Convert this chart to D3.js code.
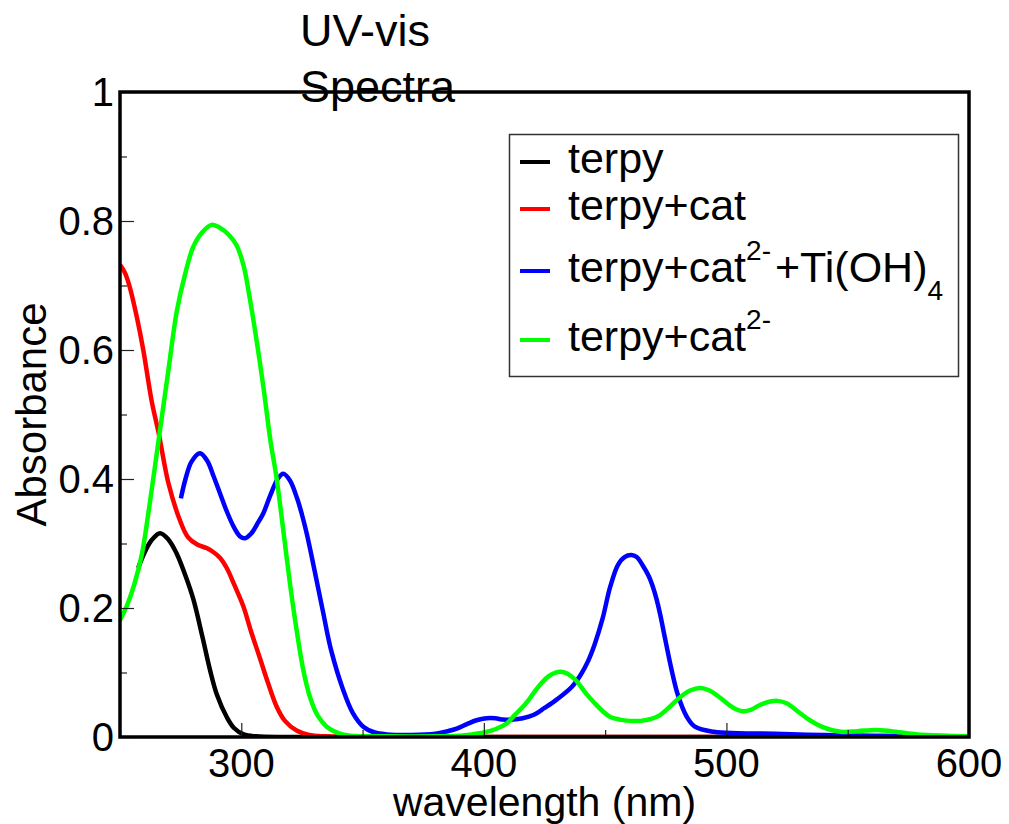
<!DOCTYPE html>
<html>
<head>
<meta charset="utf-8">
<script src="https://cdn.jsdelivr.net/npm/d3@7"></script>
<style>
  body { margin: 0; background: #fff; }
  text { font-family: "Liberation Sans", Arial, Helvetica, sans-serif; fill: #000; }
</style>
</head>
<body>
<div id="chart"></div>
<script>
// spectra: [wavelength nm, absorbance]
var terpy = [
  [257.5, 0.262], [260, 0.285], [263, 0.305], [266.5, 0.316], [270, 0.306],
  [273.3, 0.285], [277, 0.25], [280.2, 0.214], [284, 0.155], [287.1, 0.104], [290, 0.065],
  [294, 0.031], [297, 0.014], [301, 0.004], [306, 0.001], [320, 0], [400, 0], [500, 0], [600, 0]
];

var terpyCat = [
  [250, 0.732], [252, 0.72], [254, 0.698], [257, 0.65], [259.6, 0.6], [263, 0.522],
  [266, 0.47], [270, 0.393], [274.7, 0.336], [278, 0.31], [282, 0.298], [285.7, 0.293],
  [288, 0.288], [291.2, 0.278], [294, 0.262], [297, 0.237], [300.8, 0.203], [304, 0.164],
  [307.7, 0.122], [311, 0.084], [314.6, 0.047], [318, 0.025], [322.8, 0.01], [328, 0.003],
  [335, 0.001], [350, 0], [450, 0], [600, 0]
];

var terpyCatTi = [
  [275.1, 0.37], [277, 0.40], [279.5, 0.427], [283, 0.44], [286, 0.428], [288.5, 0.405],
  [291.2, 0.378], [294, 0.35], [297, 0.325], [299.5, 0.311], [301.5, 0.308], [304, 0.315],
  [307, 0.333], [309.1, 0.347], [312, 0.375], [315, 0.40], [317.3, 0.408], [320, 0.398],
  [323, 0.37], [325, 0.345], [327, 0.315], [330, 0.262], [333.8, 0.192], [337, 0.135],
  [342, 0.073], [346, 0.037], [350.3, 0.016], [355, 0.007], [360, 0.004], [370, 0.003],
  [380, 0.005], [385, 0.009], [388.8, 0.013], [393, 0.02], [397, 0.026], [401, 0.029],
  [404.7, 0.029], [408, 0.027], [412, 0.027], [416, 0.029], [420.4, 0.034], [425, 0.045],
  [430, 0.058], [436.3, 0.078], [440, 0.097], [443, 0.118], [445.8, 0.145], [448.9, 0.183],
  [452.1, 0.233], [455.3, 0.267], [458, 0.279], [460.8, 0.282], [463, 0.279], [465.5, 0.266],
  [467.9, 0.25], [469.5, 0.235], [471.1, 0.215], [472.7, 0.19], [474.2, 0.162], [477.4, 0.104],
  [480, 0.065], [483.7, 0.031], [487, 0.016], [494.8, 0.008], [505, 0.006], [520, 0.005],
  [540, 0.003], [560, 0.002], [600, 0.001]
];

var terpyCat2 = [
  [250, 0.181], [253, 0.205], [256, 0.238], [259, 0.283], [262, 0.355], [266.2, 0.468],
  [270, 0.57], [273.4, 0.66], [277, 0.72], [280.2, 0.76], [284, 0.783], [287.8, 0.794],
  [291, 0.79], [295, 0.778], [298.1, 0.762], [301, 0.73], [303.6, 0.678], [306.5, 0.61],
  [309.1, 0.543], [312, 0.46], [314.6, 0.40], [317.3, 0.321], [320, 0.24], [322.8, 0.166],
  [325.5, 0.105], [328.3, 0.062], [331.5, 0.033], [335.2, 0.016], [340, 0.006], [345, 0.002],
  [360, 0.001], [380, 0.001], [390, 0.002], [395, 0.004], [400, 0.007], [404.7, 0.012],
  [409.4, 0.021], [413, 0.035], [417.3, 0.052], [420.5, 0.068], [423.6, 0.083], [427, 0.095],
  [431.5, 0.101], [434.5, 0.098], [437.9, 0.088], [442, 0.068], [445.8, 0.052], [449, 0.04],
  [452.1, 0.031], [456, 0.027], [460, 0.025], [464.7, 0.025], [469, 0.028], [472.6, 0.034],
  [477, 0.048], [481, 0.062], [485, 0.072], [489.3, 0.076], [493, 0.072], [497, 0.062],
  [501, 0.05], [504, 0.043], [506.7, 0.04], [510, 0.042], [514, 0.05], [518, 0.055],
  [521, 0.056], [525, 0.052], [530, 0.038], [534.4, 0.026], [540, 0.015], [547.1, 0.008],
  [554, 0.009], [561.3, 0.011], [568, 0.009], [578.7, 0.004], [590, 0.002], [600, 0.001]
];

var seriesNames = ["terpy", "terpy+cat", "terpy+cat2-+Ti(OH)4", "terpy+cat2-"];
var seriesColours = ["#000000", "#ff0000", "#0000ff", "#00ff00"];
var seriesData = [terpy, terpyCat, terpyCatTi, terpyCat2];

var xTicks = [300, 400, 500, 600];
var xMinorTicks = [250, 350, 450, 550];
var yTicks = [0, 0.2, 0.4, 0.6, 0.8, 1];
var yMinorTicks = [0.1, 0.3, 0.5, 0.7, 0.9];

var width = 1009,
    height = 824;

// plot frame (avoid "top", it is window.top)
var pLeft = 120, pRight = 969, pTop = 92, pBottom = 737;

var x = d3.scaleLinear().domain([250, 600]).range([pLeft, pRight]);
var y = d3.scaleLinear().domain([0, 1]).range([pBottom, pTop]);

var svg = d3.select("#chart").append("svg")
    .attr("width", width)
    .attr("height", height);

svg.append("defs").append("clipPath")
    .attr("id", "plotclip")
  .append("rect")
    .attr("x", pLeft).attr("y", pTop)
    .attr("width", pRight - pLeft).attr("height", pBottom - pTop);

// title
var title = svg.append("text")
    .attr("font-size", 45);
title.append("tspan").attr("x", 300).attr("y", 46).text("UV-vis");
title.append("tspan").attr("x", 300).attr("y", 102).text("Spectra");

var line = d3.line()
    .x(function(d) { return x(d[0]); })
    .y(function(d) { return y(d[1]); })
    .curve(d3.curveCatmullRom.alpha(0.5));

svg.append("g")
    .attr("clip-path", "url(#plotclip)")
  .selectAll("path.spectrum")
  .data(seriesData)
  .enter()
  .append("path")
    .attr("class", "spectrum")
    .attr("d", line)
    .attr("fill", "none")
    .attr("stroke", function(d, i) { return seriesColours[i]; })
    .attr("stroke-width", 4.5)
    .attr("stroke-linejoin", "round");

// ticks, pointing inward
var xAxis = d3.axisTop(x).tickValues(xTicks).tickSize(14).tickFormat("");
var xMinor = d3.axisTop(x).tickValues(xMinorTicks).tickSize(7).tickFormat("");
var yAxis = d3.axisRight(y).tickValues(yTicks).tickSize(14).tickFormat("");
var yMinor = d3.axisRight(y).tickValues(yMinorTicks).tickSize(7).tickFormat("");

[[xAxis, "translate(0," + pBottom + ")"], [xMinor, "translate(0," + pBottom + ")"],
 [yAxis, "translate(" + pLeft + ",0)"], [yMinor, "translate(" + pLeft + ",0)"]].forEach(function(a) {
  var g = svg.append("g").attr("transform", a[1]).call(a[0]);
  g.select(".domain").remove();
  g.selectAll("line").attr("stroke", "#222").attr("stroke-width", 1.2);
});

svg.selectAll("text.xlabel")
  .data(xTicks)
  .enter()
  .append("text")
    .attr("class", "xlabel")
    .attr("x", function(d) { return x(d); })
    .attr("y", 777)
    .attr("text-anchor", "middle")
    .attr("font-size", 40)
    .text(function(d) { return d; });

svg.selectAll("text.ylabel")
  .data(yTicks)
  .enter()
  .append("text")
    .attr("class", "ylabel")
    .attr("x", 114)
    .attr("y", function(d) { return y(d); })
    .attr("dy", "0.36em")
    .attr("text-anchor", "end")
    .attr("font-size", 40)
    .text(function(d) { return d3.format("")(d); });

svg.append("text")
    .attr("x", (pLeft + pRight) / 2)
    .attr("y", 816)
    .attr("text-anchor", "middle")
    .attr("font-size", 41)
    .text("wavelength (nm)");

svg.append("text")
    .attr("transform", "translate(46," + ((pTop + pBottom) / 2) + ") rotate(-90)")
    .attr("text-anchor", "middle")
    .attr("font-size", 42)
    .text("Absorbance");

// frame
svg.append("rect")
    .attr("x", pLeft).attr("y", pTop)
    .attr("width", pRight - pLeft).attr("height", pBottom - pTop)
    .attr("fill", "none")
    .attr("stroke", "#000")
    .attr("stroke-width", 3.5);

// legend
var legend = svg.append("g");
legend.append("rect")
    .attr("x", 509.5).attr("y", 134.5)
    .attr("width", 449).attr("height", 242)
    .attr("fill", "#fff")
    .attr("stroke", "#333")
    .attr("stroke-width", 1.5);

var legendY = [162, 209, 271, 340];

legendY.forEach(function(ly, i) {
  legend.append("line")
      .attr("x1", 520).attr("x2", 550)
      .attr("y1", ly).attr("y2", ly)
      .attr("stroke", seriesColours[i])
      .attr("stroke-width", 4);
});

function legendText(i, parts) {
  var t = legend.append("text")
      .attr("x", 568)
      .attr("y", legendY[i] + 11)
      .attr("font-size", 43);
  parts.forEach(function(p) {
    var s = t.append("tspan").text(p[0]);
    if (p[1] === "sup") s.attr("font-size", 28).attr("dy", -22);
    else if (p[1] === "sub") s.attr("font-size", 28).attr("dy", 18);
    else if (p[1] === "back") s.attr("dy", 22).attr("dx", 4);
  });
}

legendText(0, [[seriesNames[0]]]);
legendText(1, [[seriesNames[1]]]);
legendText(2, [["terpy+cat"], ["2-", "sup"], ["+Ti(OH)", "back"], ["4", "sub"]]);
legendText(3, [["terpy+cat"], ["2-", "sup"]]);
</script>
</body>
</html>
